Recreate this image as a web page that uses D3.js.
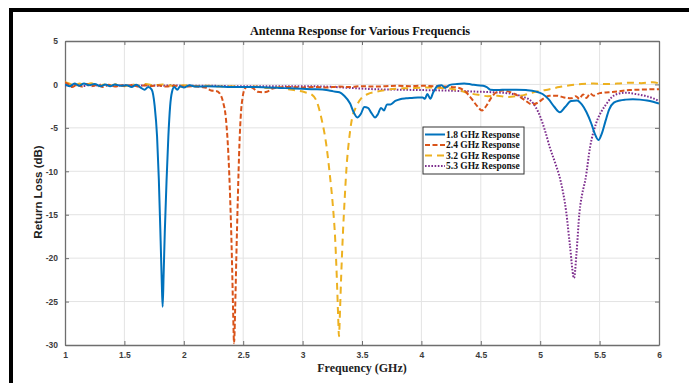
<!DOCTYPE html>
<html><head><meta charset="utf-8">
<script src="https://cdn.jsdelivr.net/npm/d3@7"></script>
<style>html,body{margin:0;padding:0;background:#fff;}svg{display:block;}</style>
</head><body>
<svg id="c" width="689" height="383"></svg>
<script>
// ---- data ----
const xTicks = [1, 1.5, 2, 2.5, 3, 3.5, 4, 4.5, 5, 5.5, 6];
const yTicks = [5, 0, -5, -10, -15, -20, -25, -30];
const seriesNames = ["1.8 GHz Response", "2.4 GHz Response", "3.2 GHz Response", "5.3 GHz Response"];

const f18 = [1.00,1.04,1.08,1.12,1.16,1.20,1.25,1.30,1.34,1.38,1.42,1.47,1.52,1.56,1.60,1.64,1.67,1.70,1.73,1.755,1.775,1.79,1.805,1.815,1.822,1.83,1.84,1.855,1.87,1.885,1.90,1.92,1.945,1.97,2.00,2.05,2.10,2.2,2.3,2.4,2.5,2.6,2.7,2.8,2.9,3.0,3.1,3.2,3.26,3.31,3.35,3.40,3.43,3.46,3.49,3.52,3.55,3.58,3.61,3.635,3.66,3.685,3.71,3.74,3.78,3.82,3.87,3.92,3.97,4.01,4.03,4.05,4.075,4.10,4.14,4.17,4.20,4.24,4.30,4.36,4.42,4.47,4.52,4.55,4.58,4.64,4.72,4.80,4.88,4.96,5.02,5.07,5.12,5.165,5.21,5.26,5.31,5.35,5.39,5.43,5.46,5.49,5.52,5.55,5.58,5.62,5.67,5.72,5.78,5.84,5.90,5.95,6.00];
const v18 = [0.0,-0.2,0.1,-0.15,0.1,-0.1,0.05,-0.2,0.0,-0.2,0.0,-0.15,-0.1,-0.3,-0.05,-0.4,-0.6,-0.3,-0.6,-2.5,-6,-11,-18,-23,-25.6,-22,-17,-11,-6,-2.5,-0.9,-0.3,-0.6,-0.2,-0.35,-0.1,-0.25,-0.2,-0.25,-0.3,-0.3,-0.3,-0.35,-0.4,-0.45,-0.5,-0.55,-0.65,-0.8,-0.9,-1.3,-2.2,-3.2,-3.8,-3.4,-2.6,-2.7,-3.3,-3.8,-3.4,-2.7,-3.0,-2.3,-2.3,-1.9,-1.7,-1.6,-1.55,-1.5,-1.5,-1.65,-1.1,-1.65,-0.9,-0.15,-0.1,-0.4,-0.05,0.05,0.1,0.0,-0.1,-0.15,-0.3,-0.6,-0.65,-0.6,-0.6,-0.65,-0.8,-1.1,-1.7,-2.6,-3.2,-2.6,-1.9,-1.85,-2.3,-3.2,-4.5,-5.7,-6.4,-5.6,-4.2,-2.9,-2.1,-1.85,-1.75,-1.7,-1.75,-1.85,-2.0,-2.2];

const f24 = [1.00,1.03,1.06,1.10,1.14,1.18,1.22,1.27,1.32,1.37,1.42,1.47,1.52,1.57,1.62,1.67,1.72,1.78,1.85,1.92,2.00,2.08,2.15,2.19,2.23,2.27,2.30,2.33,2.355,2.375,2.39,2.405,2.415,2.423,2.432,2.442,2.455,2.468,2.48,2.495,2.51,2.53,2.56,2.59,2.62,2.66,2.70,2.74,2.80,2.9,3.0,3.1,3.2,3.3,3.4,3.5,3.6,3.7,3.8,3.9,4.0,4.1,4.2,4.3,4.36,4.42,4.47,4.51,4.55,4.59,4.63,4.68,4.73,4.80,4.87,4.93,4.98,5.03,5.08,5.14,5.20,5.26,5.30,5.33,5.36,5.39,5.42,5.45,5.50,5.58,5.66,5.75,5.85,5.95,6.00];
const v24 = [0.25,0.0,-0.3,-0.05,-0.25,0.05,-0.2,-0.05,-0.3,-0.05,-0.25,-0.1,-0.2,-0.05,-0.25,-0.1,-0.2,-0.1,-0.25,-0.15,-0.25,-0.2,-0.3,-0.4,-0.7,-0.75,-1.0,-2.0,-4,-8,-13,-20,-26,-29.8,-26,-20,-13,-7,-3.5,-1.5,-0.6,-0.3,-0.3,-0.5,-0.85,-0.9,-0.85,-0.5,-0.35,-0.3,-0.35,-0.3,-0.35,-0.25,-0.3,-0.2,-0.25,-0.2,-0.15,-0.2,-0.15,-0.2,-0.25,-0.35,-0.7,-1.6,-2.5,-3.0,-2.4,-1.5,-0.9,-0.7,-0.8,-1.2,-1.8,-2.3,-2.1,-1.6,-1.3,-1.3,-1.5,-1.6,-1.35,-1.65,-1.15,-1.55,-1.05,-1.3,-1.0,-0.9,-0.8,-0.65,-0.6,-0.55,-0.55];

const f32 = [1.00,1.04,1.08,1.12,1.17,1.22,1.28,1.33,1.38,1.44,1.50,1.56,1.62,1.68,1.75,1.82,1.90,2.0,2.1,2.2,2.3,2.4,2.5,2.6,2.7,2.8,2.88,2.95,3.02,3.08,3.12,3.16,3.20,3.23,3.255,3.275,3.29,3.30,3.306,3.315,3.325,3.34,3.355,3.37,3.39,3.415,3.45,3.50,3.55,3.62,3.72,3.85,3.95,4.05,4.15,4.25,4.32,4.40,4.48,4.56,4.64,4.72,4.80,4.87,4.93,5.00,5.08,5.16,5.25,5.35,5.45,5.55,5.65,5.75,5.85,5.95,6.00];
const v32 = [0.25,0.1,-0.2,0.1,-0.1,0.15,-0.2,0.0,-0.15,0.05,-0.2,0.0,-0.15,0.05,-0.1,0.0,-0.15,-0.1,-0.2,-0.15,-0.25,-0.2,-0.3,-0.25,-0.4,-0.35,-0.55,-0.7,-0.9,-1.2,-2.0,-4.0,-7,-10.5,-14,-18,-23,-27,-29,-26,-22,-17,-13,-9.5,-6.5,-4.0,-2.6,-1.5,-1.1,-0.85,-0.6,-0.45,-0.4,-0.35,-0.4,-0.5,-0.7,-1.0,-1.2,-1.35,-1.3,-1.45,-1.35,-1.2,-0.95,-0.75,-0.55,-0.3,-0.1,0.05,0.1,0.05,0.1,0.2,0.15,0.25,0.1];

const f53 = [1.00,1.05,1.10,1.15,1.20,1.25,1.30,1.40,1.50,1.60,1.70,1.80,1.90,2.0,2.2,2.4,2.6,2.8,3.0,3.2,3.4,3.6,3.8,4.0,4.2,4.4,4.6,4.75,4.85,4.93,5.00,5.04,5.08,5.13,5.17,5.22,5.25,5.285,5.305,5.33,5.355,5.38,5.42,5.47,5.52,5.56,5.60,5.65,5.72,5.80,5.88,5.95,6.00];
const v53 = [-0.1,-0.2,0.0,-0.2,-0.05,-0.15,-0.05,-0.15,-0.1,-0.15,-0.1,-0.15,-0.1,-0.15,-0.15,-0.2,-0.2,-0.2,-0.2,-0.25,-0.4,-0.55,-0.6,-0.65,-0.7,-0.8,-0.9,-1.05,-1.4,-2.0,-3.7,-5.3,-7.2,-9.2,-11,-14.8,-18.5,-22.3,-19.5,-14.8,-12.5,-11,-7.2,-4.5,-3.0,-2.2,-1.5,-1.1,-0.95,-1.1,-1.3,-1.6,-1.9];

const colors = ["#0072BD", "#D95319", "#EDB120", "#7E2F8E"];
const dashes = [null, "5,2.5", "7,5", "1.6,1.6"];

// ---- layout ----
const svg = d3.select("#c");
const X0 = 65, X1 = 659, Y0 = 41, Y1 = 345;
const x = d3.scaleLinear().domain([1, 6]).range([X0, X1]);
const y = d3.scaleLinear().domain([-30, 5]).range([Y1, Y0]);

// outer frame (left and top heavy border)
svg.append("line").attr("x1", 11).attr("x2", 11).attr("y1", 8).attr("y2", 383).attr("stroke", "#000").attr("stroke-width", 4);
svg.append("line").attr("x1", 9).attr("x2", 689).attr("y1", 10).attr("y2", 10).attr("stroke", "#000").attr("stroke-width", 4);

// grid
const g = svg.append("g");
g.selectAll(".gx").data(xTicks.slice(1, -1)).join("line")
  .attr("x1", d => x(d)).attr("x2", d => x(d)).attr("y1", Y0).attr("y2", Y1)
  .attr("stroke", "#e3e3e3").attr("stroke-width", 1);
g.selectAll(".gy").data(yTicks.slice(1, -1)).join("line")
  .attr("x1", X0).attr("x2", X1).attr("y1", d => y(d)).attr("y2", d => y(d))
  .attr("stroke", "#e3e3e3").attr("stroke-width", 1);

// axes
const axisColor = "#6e6e6e";
const fmt = d => String(d);
const xb = svg.append("g").attr("transform", `translate(0,${Y1})`)
  .call(d3.axisBottom(x).tickValues(xTicks).tickSizeInner(-4).tickSizeOuter(0).tickPadding(7).tickFormat(fmt));
const xt = svg.append("g").attr("transform", `translate(0,${Y0})`)
  .call(d3.axisTop(x).tickValues(xTicks).tickSizeInner(-4).tickSizeOuter(0).tickFormat(""));
const yl = svg.append("g").attr("transform", `translate(${X0},0)`)
  .call(d3.axisLeft(y).tickValues(yTicks).tickSizeInner(-4).tickSizeOuter(0).tickPadding(7).tickFormat(fmt));
const yr = svg.append("g").attr("transform", `translate(${X1},0)`)
  .call(d3.axisRight(y).tickValues(yTicks).tickSizeInner(-4).tickSizeOuter(0).tickFormat(""));
[xb, xt, yl, yr].forEach(a => {
  a.selectAll("path").attr("stroke", axisColor).attr("stroke-width", 1.3);
  a.selectAll("line").attr("stroke", axisColor).attr("stroke-width", 1);
  a.selectAll("text").attr("fill", "#3c3c3c").attr("font-family", "'Liberation Sans', Arial, sans-serif")
    .attr("font-weight", "bold").attr("font-size", "8.5px");
});

// lines
const series = [[f18, v18], [f24, v24], [f32, v32], [f53, v53]];
const line = d3.line().x(d => x(d[0])).y(d => y(d[1])).curve(d3.curveMonotoneX);
const clip = svg.append("clipPath").attr("id", "pc").append("rect")
  .attr("x", X0).attr("y", Y0 - 2).attr("width", X1 - X0).attr("height", Y1 - Y0 + 3);
const lg = svg.append("g").attr("clip-path", "url(#pc)");
[3, 2, 1, 0].forEach(i => {
  const pts = series[i][0].map((f, k) => [f, series[i][1][k]]);
  lg.append("path").datum(pts).attr("d", line)
    .attr("fill", "none").attr("stroke", colors[i]).attr("stroke-width", 2)
    .attr("stroke-dasharray", dashes[i]).attr("stroke-linejoin", "round");
});

// title and labels
svg.append("text").attr("x", 360).attr("y", 35).attr("text-anchor", "middle")
  .attr("font-family", "'Liberation Serif', 'Times New Roman', serif").attr("font-weight", "bold")
  .attr("font-size", "12.3px").attr("fill", "#111").text("Antenna Response for Various Frequencis");
svg.append("text").attr("x", 362).attr("y", 372).attr("text-anchor", "middle")
  .attr("font-family", "'Liberation Serif', 'Times New Roman', serif").attr("font-weight", "bold")
  .attr("font-size", "12px").attr("fill", "#222").text("Frequency (GHz)");
svg.append("text").attr("transform", "translate(42,192) rotate(-90)").attr("text-anchor", "middle")
  .attr("font-family", "'Liberation Sans', Arial, sans-serif").attr("font-weight", "bold")
  .attr("font-size", "11.5px").attr("fill", "#222").text("Return Loss (dB)");

// legend
const L = svg.append("g").attr("transform", "translate(423,127)");
L.append("rect").attr("width", 101).attr("height", 47).attr("fill", "#fff").attr("stroke", "#333").attr("stroke-width", 1);
seriesNames.forEach((n, i) => {
  const yy = 7.5 + i * 10.5;
  L.append("line").attr("x1", 2).attr("x2", 22).attr("y1", yy).attr("y2", yy)
    .attr("stroke", colors[i]).attr("stroke-width", 2).attr("stroke-dasharray", dashes[i]);
  L.append("text").attr("x", 23).attr("y", yy + 3.2)
    .attr("font-family", "'Liberation Serif', 'Times New Roman', serif").attr("font-weight", "bold")
    .attr("font-size", "9.5px").attr("fill", "#111").text(n);
});
</script>
</body></html>
